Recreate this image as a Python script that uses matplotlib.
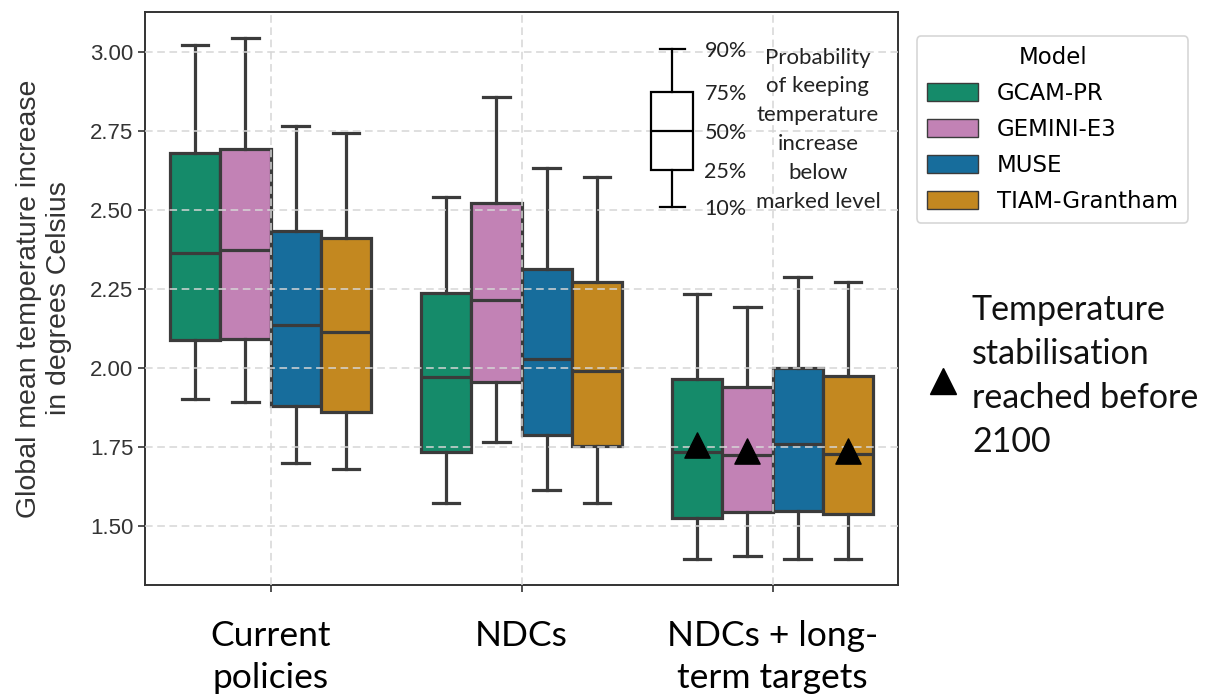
import matplotlib
matplotlib.use('Agg')
import matplotlib.pyplot as plt
import seaborn as sns
from matplotlib.patches import Patch

scenarios = ['Current\npolicies', 'NDCs', 'NDCs + long-\nterm targets']
models = ['GCAM-PR', 'GEMINI-E3', 'MUSE', 'TIAM-Grantham']

# percentiles of temperature increase, rows = models, columns = scenarios
p90 = [[3.022, 2.540, 2.234],
       [3.046, 2.857, 2.194],
       [2.766, 2.634, 2.289],
       [2.743, 2.605, 2.273]]
p75 = [[2.681, 2.236, 1.964],
       [2.694, 2.521, 1.939],
       [2.435, 2.312, 2.001],
       [2.410, 2.273, 1.975]]
p50 = [[2.364, 1.973, 1.735],
       [2.373, 2.215, 1.725],
       [2.136, 2.027, 1.759],
       [2.115, 1.990, 1.727]]
p25 = [[2.089, 1.735, 1.524],
       [2.092, 1.957, 1.545],
       [1.880, 1.788, 1.547],
       [1.862, 1.754, 1.538]]
p10 = [[1.902, 1.574, 1.396],
       [1.892, 1.767, 1.406],
       [1.700, 1.614, 1.396],
       [1.679, 1.574, 1.396]]

# stabilisation markers (NDCs + long-term targets), None = not reached
stabilised = [1.755, 1.737, None, 1.737]

# illustrative key box (10/25/50/75/90 %)
key_levels = [2.510, 2.627, 2.751, 2.874, 3.009]
key_labels = ['10%', '25%', '50%', '75%', '90%']

colors = [sns.desaturate(c, 0.75) for c in sns.color_palette('colorblind')]
colors = [colors[2], colors[4], colors[0], colors[1]]
edge = '#3b3b3b'

fig = plt.figure(figsize=(12.18, 6.94), dpi=100)
ax = fig.add_axes([145 / 1218, 1 - 585 / 694, 753 / 1218, 573 / 694])

width = 0.2
for m, model in enumerate(models):
    stats = []
    pos = []
    for s in range(len(scenarios)):
        stats.append({'whislo': p10[m][s], 'q1': p25[m][s], 'med': p50[m][s],
                      'q3': p75[m][s], 'whishi': p90[m][s], 'fliers': []})
        pos.append(s + (m - 1.5) * width)
    ax.bxp(stats, positions=pos, widths=width, capwidths=0.105, patch_artist=True,
           showfliers=False, manage_ticks=False,
           boxprops=dict(facecolor=colors[m], edgecolor=edge, linewidth=2.3),
           medianprops=dict(color=edge, linewidth=2.3),
           whiskerprops=dict(color=edge, linewidth=2.3),
           capprops=dict(color=edge, linewidth=2.3), zorder=2)
    if stabilised[m] is not None:
        ax.scatter(2 + (m - 1.5) * width, stabilised[m], marker='^', s=330,
                   color='black', zorder=4)

# key box
ax.bxp([{'whislo': key_levels[0], 'q1': key_levels[1], 'med': key_levels[2],
         'q3': key_levels[3], 'whishi': key_levels[4], 'fliers': []}],
       positions=[1.6], widths=0.17, capwidths=0.1, patch_artist=True,
       showfliers=False, manage_ticks=False,
       boxprops=dict(facecolor='white', edgecolor='black', linewidth=1.6, zorder=4),
       medianprops=dict(color='black', linewidth=1.6, zorder=4),
       whiskerprops=dict(color='black', linewidth=1.6, zorder=4),
       capprops=dict(color='black', linewidth=1.6, zorder=4))
for lev, lab in zip(key_levels, key_labels):
    ax.text(1.729, lev - 0.006, lab, family='Lato', fontsize=15.5,
            ha='left', va='center', color='#222222')
ax.text(2.181, 2.755, 'Probability\nof keeping\ntemperature\nincrease\nbelow\nmarked level',
        family='Lato', fontsize=16, ha='center', va='center',
        linespacing=1.55, color='#222222')

ax.set_xlim(-0.5, 2.5)
ax.set_ylim(1.313, 3.127)
ax.set_xticks(range(len(scenarios)))
ax.set_xticklabels(scenarios, family='Lato', fontsize=25.5, linespacing=1.4)
ax.set_yticks([1.5, 1.75, 2.0, 2.25, 2.5, 2.75, 3.0])
ax.set_yticklabels(['1.50', '1.75', '2.00', '2.25', '2.50', '2.75', '3.00'],
                   family='Liberation Sans', fontsize=16, color='#333333')
ax.tick_params(axis='both', length=5, width=1.2, color='#333333')
ax.tick_params(axis='x', pad=20)
ax.set_ylabel('Global mean temperature increase\nin degrees Celsius',
              family='Liberation Sans', fontsize=20.5, color='#333333',
              labelpad=13, linespacing=1.2)
ax.grid(True, linestyle=(0, (5, 3)), color='#d6d6d6', linewidth=1.1, zorder=3)
ax.set_axisbelow(False)
for sp in ax.spines.values():
    sp.set_color('#333333')
    sp.set_linewidth(1.4)

handles = [Patch(facecolor=colors[m], edgecolor=edge, linewidth=1, label=models[m])
           for m in range(len(models))]
leg = ax.legend(handles=handles, title='Model', loc='upper left',
                bbox_to_anchor=(1.025, 0.958), borderaxespad=0,
                title_fontsize=16.5, handlelength=2.2,
                handleheight=0.8, labelspacing=0.56, handletextpad=0.85,
                borderpad=0.45, frameon=True,
                prop={'family': 'DejaVu Sans', 'size': 16.5})
leg.get_frame().set_edgecolor('#cccccc')
leg.get_frame().set_linewidth(1.2)

# stabilisation key on the right
ax.plot([943 / 1218], [1 - 381 / 694], marker='^', markersize=19, color='black',
        transform=fig.transFigure, clip_on=False)
fig.text(972 / 1218, 1 - 376 / 694, 'Temperature\nstabilisation\nreached before\n2100',
         family='Lato', fontsize=24.5, ha='left', va='center', linespacing=1.45,
         color='#111111')

fig.savefig('out.png', dpi=100)
